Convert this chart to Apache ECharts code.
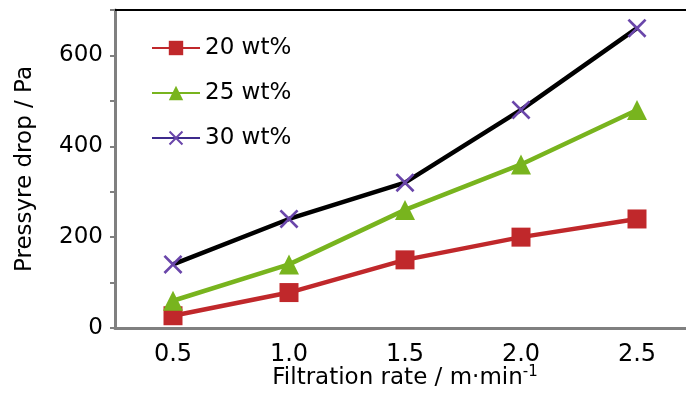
<!DOCTYPE html>
<html>
<head>
<meta charset="utf-8">
<script src="https://cdn.jsdelivr.net/npm/echarts@6/dist/echarts.min.js"></script>
<style>
  html, body { margin: 0; padding: 0; background: #fff; }
  #chart { width: 686px; height: 396px; }
</style>
</head>
<body>
<div id="chart"></div>
<script>
// filtration rates (m/min)
var rates = ['0.5', '1.0', '1.5', '2.0', '2.5'];
// pressure drop (Pa) per solids content
var drop20 = [27, 78, 150, 200, 240];
var drop25 = [60, 140, 260, 360, 480];
var drop30 = [140, 240, 320, 480, 660];
var seriesNames = ['20 wt%', '25 wt%', '30 wt%'];

var font = 'DejaVu Sans';
var xMark = 'path://M0,1L1,0L5,4L9,0L10,1L6,5L10,9L9,10L5,6L1,10L0,9L4,5Z';

var myChart = echarts.init(document.getElementById('chart'));
var option = {
    animation: false,
    backgroundColor: '#fff',
    grid: { left: 115, right: -9, top: 10, bottom: 68, outerBoundsMode: 'none', containLabel: false },
    legend: {
        left: 146,
        top: 30,
        orient: 'vertical',
        itemWidth: 48,
        itemHeight: 18,
        itemGap: 19,
        textStyle: { fontFamily: font, fontSize: 23, color: '#000', lineHeight: 26 },
        data: [
            { name: seriesNames[0] },
            { name: seriesNames[1] },
            { name: seriesNames[2], lineStyle: { color: '#3d2a8c' } }
        ]
    },
    xAxis: [{
        type: 'category',
        data: rates,
        boundaryGap: true,
        name: 'Filtration rate / m·min{s|-1}',
        nameLocation: 'middle',
        nameGap: 36,
        nameMoveOverlap: false,
        nameTextStyle: {
            fontFamily: font, fontSize: 23, color: '#000', lineHeight: 28,
            rich: { s: { fontFamily: font, fontSize: 15, lineHeight: 15, color: '#000', verticalAlign: 'top', padding: [1, 0, 0, 0] } }
        },
        axisLine: { lineStyle: { color: '#808080', width: 3 } },
        axisTick: { length: 6, lineStyle: { color: '#808080', width: 2 } },
        axisLabel: { fontFamily: font, fontSize: 24, color: '#000', margin: 15 },
        splitLine: { show: false }
    }, {
        type: 'category',
        data: rates,
        position: 'top',
        axisLine: { lineStyle: { color: '#000', width: 2 } },
        axisTick: { show: false },
        axisLabel: { show: false }
    }],
    yAxis: {
        type: 'value',
        min: 0,
        max: 700,
        interval: 100,
        name: 'Pressyre drop / Pa',
        nameLocation: 'middle',
        nameGap: 78,
        nameTextStyle: { fontFamily: font, fontSize: 23, color: '#000' },
        axisLine: { show: true, lineStyle: { color: '#808080', width: 3 } },
        axisTick: { show: true, length: 5, lineStyle: { color: '#808080', width: 2 } },
        axisLabel: {
            fontFamily: font, fontSize: 23, color: '#000', margin: 12,
            formatter: function (v) { return v % 200 === 0 ? String(v) : ''; }
        },
        splitLine: { show: false }
    },
    series: [{
        name: seriesNames[0],
        type: 'line',
        data: drop20,
        symbol: 'rect',
        symbolSize: 19,
        lineStyle: { color: '#c0282b', width: 4.5 },
        itemStyle: { color: '#c0282b' }
    }, {
        name: seriesNames[1],
        type: 'line',
        data: drop25,
        symbol: 'triangle',
        symbolSize: 20,
        lineStyle: { color: '#78b41e', width: 4.5 },
        itemStyle: { color: '#78b41e' }
    }, {
        name: seriesNames[2],
        type: 'line',
        data: drop30,
        symbol: xMark,
        symbolSize: 19,
        lineStyle: { color: '#000', width: 4.5 },
        itemStyle: { color: '#6a46aa' }
    }]
};
myChart.setOption(option);
</script>
</body>
</html>
